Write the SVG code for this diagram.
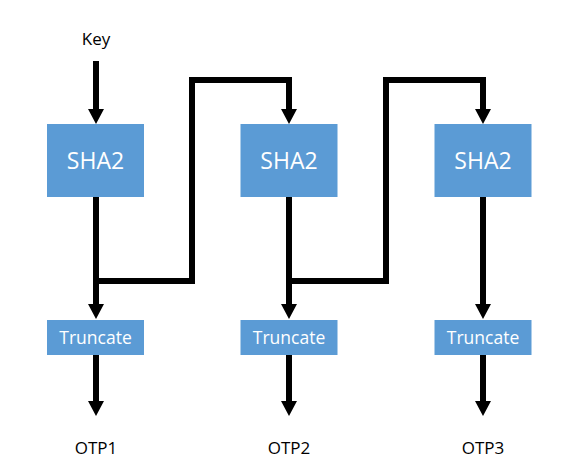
<svg xmlns="http://www.w3.org/2000/svg" width="561" height="474" viewBox="0 0 561 474">
<style>
.box{fill:#5B9BD5;}
.bt{font-family:"Open Sans","Liberation Sans",sans-serif;fill:#fff;text-anchor:middle;}
.lbl{font-family:"Open Sans","Liberation Sans",sans-serif;fill:#000;text-anchor:middle;font-size:17px;}
.c{fill:none;stroke:#000;stroke-width:6;stroke-linejoin:miter;}
</style>
<defs>
<marker id="ah" markerUnits="userSpaceOnUse" markerWidth="16" markerHeight="16" refX="0" refY="8" orient="auto" overflow="visible">
<path d="M0,0 L15,8 L0,16 Z" fill="#000"/>
</marker>
</defs>
<rect width="561" height="474" fill="#fff"/>
<g id="connectors">
<path class="c" d="M96,61 V109" marker-end="url(#ah)"/>
<path class="c" d="M96,197 V304" marker-end="url(#ah)"/>
<path class="c" d="M96,281 H192 V80 H289 V109" marker-end="url(#ah)"/>
<path class="c" d="M289,197 V304" marker-end="url(#ah)"/>
<path class="c" d="M289,281 H386 V80 H483 V109" marker-end="url(#ah)"/>
<path class="c" d="M483,197 V304" marker-end="url(#ah)"/>
<path class="c" d="M96,355 V401" marker-end="url(#ah)"/>
<path class="c" d="M289,355 V401" marker-end="url(#ah)"/>
<path class="c" d="M483,355 V401" marker-end="url(#ah)"/>
</g>
<g id="key"><text class="lbl" x="96" y="45">Key</text></g>
<g id="sha1"><rect class="box" x="47" y="124" width="97" height="73"/><text class="bt" x="95.5" y="169" font-size="23">SHA2</text></g>
<g id="sha2"><rect class="box" x="240.5" y="124" width="97" height="73"/><text class="bt" x="289" y="169" font-size="23">SHA2</text></g>
<g id="sha3"><rect class="box" x="434.5" y="124" width="97" height="73"/><text class="bt" x="483" y="169" font-size="23">SHA2</text></g>
<g id="trunc1"><rect class="box" x="47" y="320" width="97" height="35"/><text class="bt" x="95.5" y="344" font-size="17.5">Truncate</text></g>
<g id="trunc2"><rect class="box" x="240.5" y="320" width="97" height="35"/><text class="bt" x="289" y="344" font-size="17.5">Truncate</text></g>
<g id="trunc3"><rect class="box" x="434.5" y="320" width="97" height="35"/><text class="bt" x="483" y="344" font-size="17.5">Truncate</text></g>
<g id="otp1"><text class="lbl" x="96" y="454">OTP1</text></g>
<g id="otp2"><text class="lbl" x="289" y="454">OTP2</text></g>
<g id="otp3"><text class="lbl" x="483" y="454">OTP3</text></g>
</svg>
